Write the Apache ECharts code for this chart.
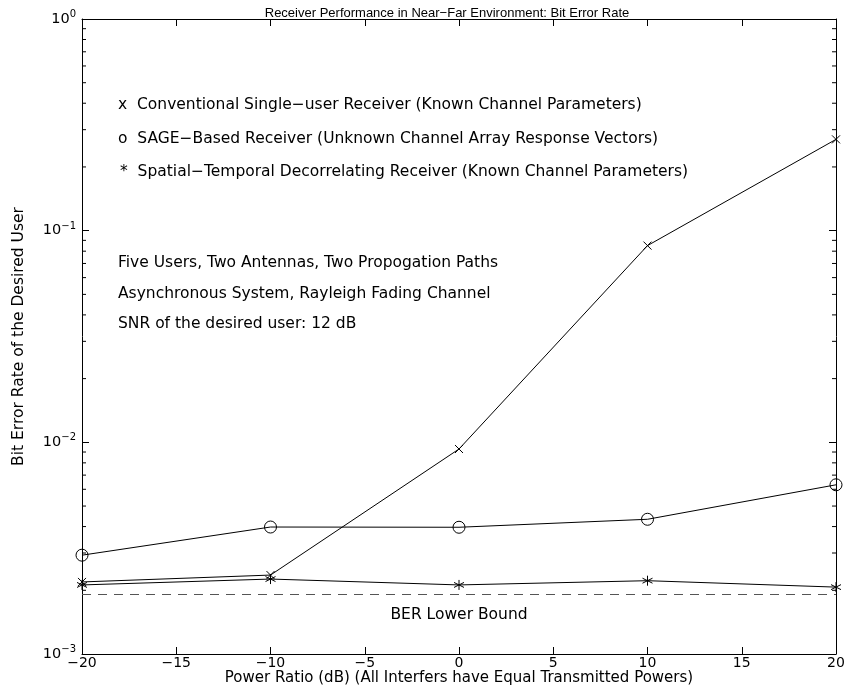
<!DOCTYPE html>
<html><head><meta charset="utf-8">
<script src="https://cdn.jsdelivr.net/npm/echarts@6/dist/echarts.min.js"></script>
<style>html,body{margin:0;padding:0;background:#fff}#c{width:848px;height:686px}</style>
</head><body><div id="c"></div>
<script>
const powerRatio = [-20, -10, 0, 10, 20];
const conventionalBER = [0.00219, 0.00236, 0.0093, 0.085, 0.27];
const sageBER = [0.00293, 0.00398, 0.00397, 0.00433, 0.0063];
const decorrelatingBER = [0.00212, 0.00226, 0.00212, 0.00222, 0.00207];
const boundX = [-20, 20];
const boundBER = [0.00191, 0.00191];
const xTicks = [-20, -15, -10, -5, 0, 5, 10, 15, 20];
const yDecades = [0.001, 0.01, 0.1, 1];
const minorTickValues = [];
[0.001, 0.01, 0.1].forEach(d => { for (let k = 2; k <= 9; k++) minorTickValues.push(+(d * k).toPrecision(3)); });

const FONT = '"DejaVu Sans", Arial, sans-serif';
const TFONT = '"Liberation Sans", Arial, Helvetica, sans-serif';
const FS = 14;
const FT = 15.5;
const chart = echarts.init(document.getElementById('c'));

const xSym = 'path://M0,0L10,10M10,0L0,10';
const starSym = 'path://M5,0L5,10M0.7,2.5L9.3,7.5M0.7,7.5L9.3,2.5';

function supLabel(v) {
  const e = Math.round(Math.log10(v));
  return '{b|10}{s|' + (e < 0 ? '\u2212' + (-e) : e) + '}';
}
const minus = v => (v < 0 ? '\u2212' + Math.abs(v) : String(v));

const xAxisCommon = {
  type: 'value', min: -20, max: 20, interval: 5,
  axisLine: { show: true, onZero: false, lineStyle: { color: '#000', width: 1 } },
  axisTick: { show: true, inside: true, length: 7, lineStyle: { color: '#000' } },
  splitLine: { show: false }
};
const yAxisCommon = {
  type: 'log', logBase: 10, min: 0.001, max: 1,
  axisLine: { show: true, onZero: false, lineStyle: { color: '#000', width: 1 } },
  axisTick: { show: true, inside: true, length: 7, lineStyle: { color: '#000' } },
  splitLine: { show: false }
};

const txt = (t, x, y, align) => ({
  type: 'text', x: x, y: y,
  style: { text: t, font: FT + 'px ' + FONT, fill: '#000', align: align || 'left', verticalAlign: 'middle' }
});

const option = {
  backgroundColor: '#fff',
  animation: false,
  title: {
    text: 'Receiver Performance in Near\u2212Far Environment: Bit Error Rate',
    left: 442, top: 2, textAlign: 'center',
    textStyle: { fontFamily: TFONT, fontSize: 13, fontWeight: 'normal', color: '#000' }
  },
  grid: { left: 82, right: 12, top: 19, bottom: 32, outerBoundsMode: 'none', containLabel: false },
  xAxis: [
    Object.assign({}, xAxisCommon, {
      position: 'bottom',
      name: 'Power Ratio (dB) (All Interfers have Equal Transmitted Powers)',
      nameLocation: 'middle', nameGap: 17, nameMoveOverlap: false,
      nameTextStyle: { fontFamily: FONT, fontSize: 15, color: '#000', verticalAlign: 'top' },
      axisLabel: { show: true, margin: 2, fontFamily: FONT, fontSize: FS, color: '#000', formatter: minus }
    }),
    Object.assign({}, xAxisCommon, { position: 'top', axisLabel: { show: false } })
  ],
  yAxis: [
    Object.assign({}, yAxisCommon, {
      position: 'left',
      name: 'Bit Error Rate of the Desired User',
      nameLocation: 'middle', nameGap: 55, nameRotate: 90, nameMoveOverlap: false,
      nameTextStyle: { fontFamily: FONT, fontSize: FT, color: '#000' },
      axisLabel: {
        show: true, margin: 6, formatter: supLabel,
        rich: {
          b: { fontFamily: FONT, fontSize: 14.5, color: '#000' },
          s: { fontFamily: FONT, fontSize: 10, color: '#000', padding: [0, 0, 9, 0] }
        }
      }
    }),
    Object.assign({}, yAxisCommon, { position: 'right', axisLabel: { show: false } })
  ],
  graphic: [
    txt('x  Conventional Single\u2212user Receiver (Known Channel Parameters)', 118, 105),
    txt('o  SAGE\u2212Based Receiver (Unknown Channel Array Response Vectors)', 118, 139),
    txt('*  Spatial\u2212Temporal Decorrelating Receiver (Known Channel Parameters)', 120, 172),
    txt('Five Users, Two Antennas, Two Propogation Paths', 118, 263),
    txt('Asynchronous System, Rayleigh Fading Channel', 118, 294),
    txt('SNR of the desired user: 12 dB', 118, 324),
    txt('BER Lower Bound', 459, 615, 'center')
  ],
  series: [
    {
      type: 'line', name: 'Conventional', clip: false,
      data: powerRatio.map((x, i) => [x, conventionalBER[i]]),
      lineStyle: { color: '#000', width: 1 },
      symbol: xSym, symbolSize: 8,
      itemStyle: { color: 'none', borderColor: '#000', borderWidth: 1 }
    },
    {
      type: 'line', name: 'SAGE', clip: false,
      data: powerRatio.map((x, i) => [x, sageBER[i]]),
      lineStyle: { color: '#000', width: 1 },
      symbol: 'circle', symbolSize: 12,
      itemStyle: { color: 'rgba(0,0,0,0)', borderColor: '#000', borderWidth: 1 }
    },
    {
      type: 'line', name: 'Decorrelating', clip: false,
      data: powerRatio.map((x, i) => [x, decorrelatingBER[i]]),
      lineStyle: { color: '#000', width: 1 },
      symbol: starSym, symbolSize: 10,
      itemStyle: { color: 'none', borderColor: '#000', borderWidth: 1 }
    },
    {
      type: 'line', name: 'Bound', showSymbol: false, symbol: 'none',
      data: boundX.map((x, i) => [x, boundBER[i]]),
      lineStyle: { color: '#555', width: 1, type: [9, 7] }
    },
    {
      type: 'custom', name: 'minorTicks', silent: true, clip: false,
      data: minorTickValues.map(v => [v]),
      renderItem: function (params, api) {
        const v = api.value(0);
        const p = api.coord([-20, v]);
        const q = api.coord([20, v]);
        return {
          type: 'group',
          children: [
            { type: 'line', shape: { x1: p[0], y1: p[1], x2: p[0] + 4, y2: p[1] }, style: { stroke: '#000', lineWidth: 1 } },
            { type: 'line', shape: { x1: q[0], y1: q[1], x2: q[0] - 4, y2: q[1] }, style: { stroke: '#000', lineWidth: 1 } }
          ]
        };
      },
      encode: { y: 0 }
    }
  ]
};
chart.setOption(option);
</script></body></html>
